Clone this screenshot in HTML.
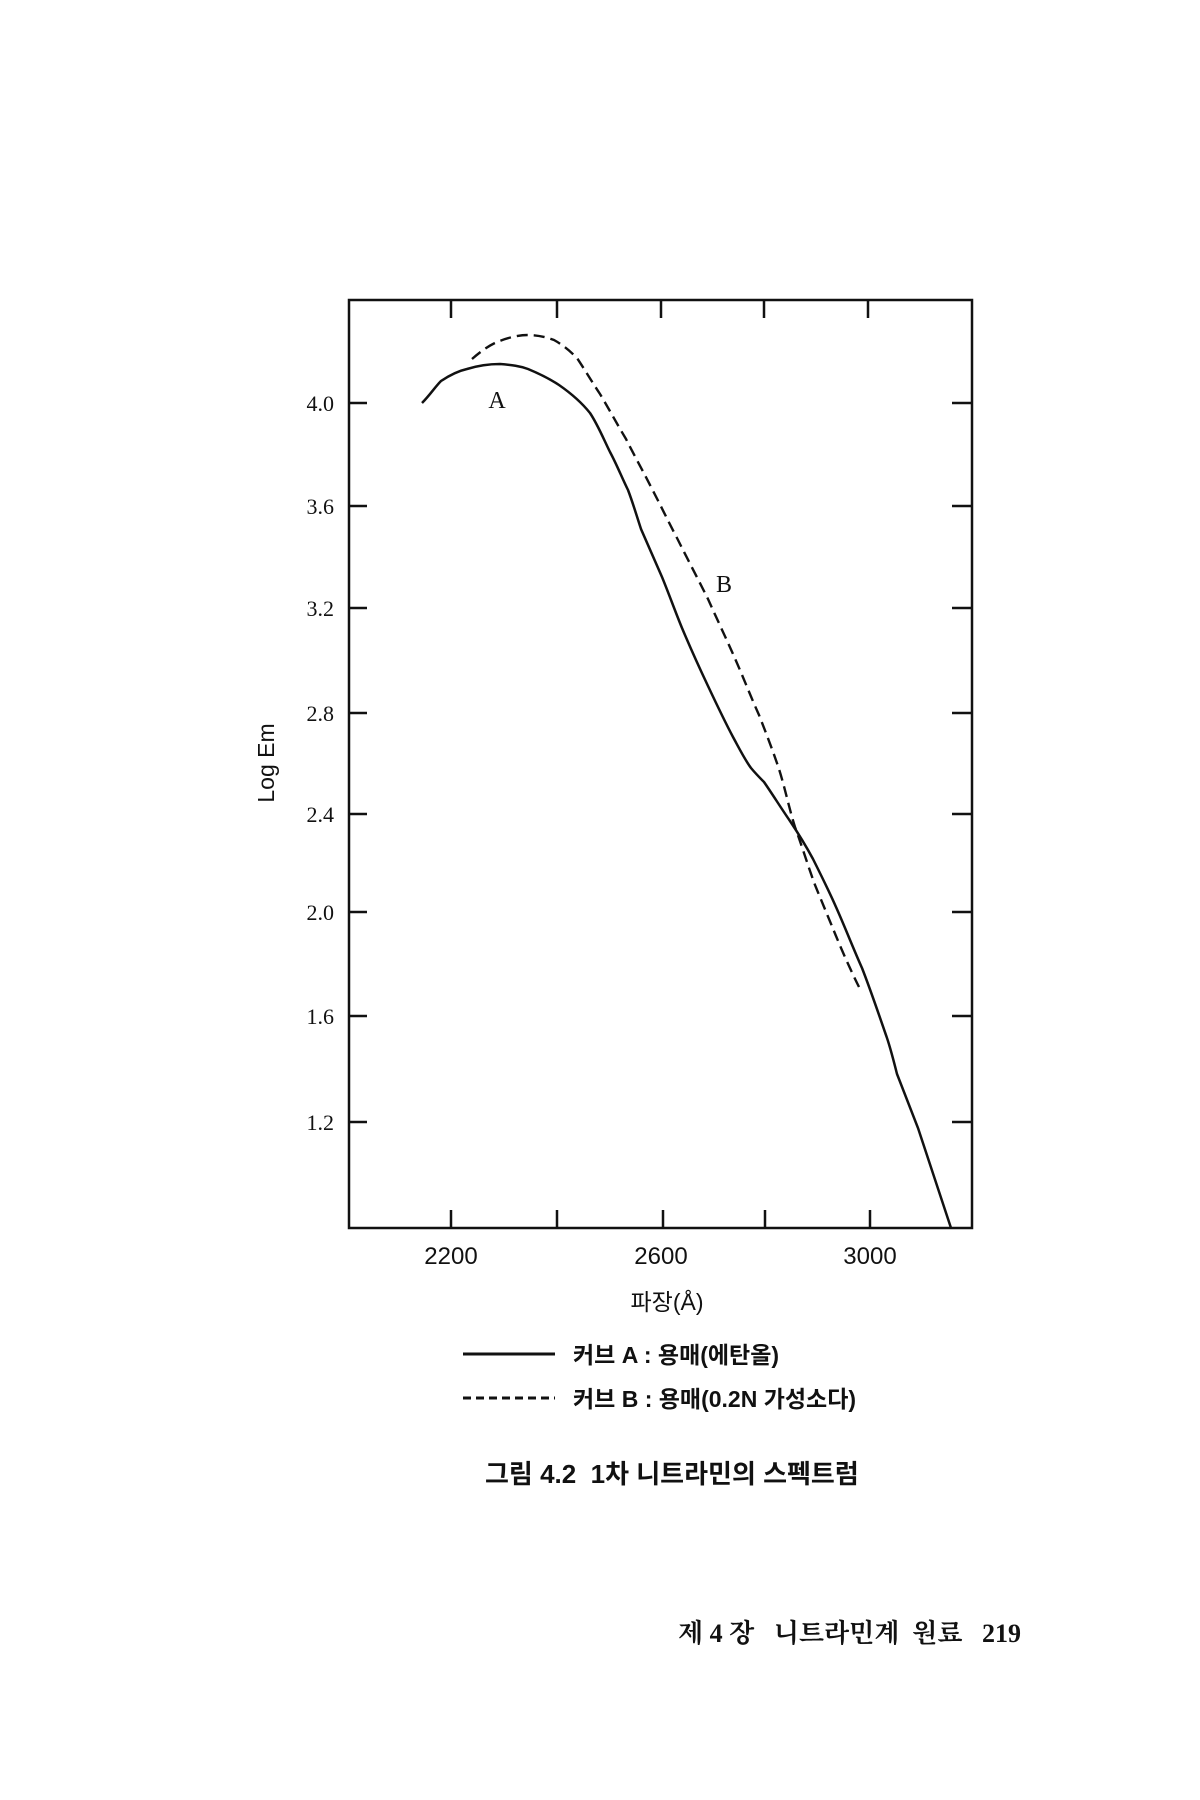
<!DOCTYPE html>
<html><head><meta charset="utf-8"><style>
html,body{margin:0;padding:0;background:#fff;}
svg{display:block;}
</style></head><body>
<svg width="1200" height="1800" viewBox="0 0 1200 1800" xmlns="http://www.w3.org/2000/svg">
<rect width="1200" height="1800" fill="#fff"/>
<rect x="349" y="300" width="623" height="928" fill="none" stroke="#111" stroke-width="2.5"/>
<g stroke="#111" stroke-width="2.5">
<line x1="451" y1="300" x2="451" y2="318"/><line x1="557" y1="300" x2="557" y2="318"/><line x1="661" y1="300" x2="661" y2="318"/><line x1="764" y1="300" x2="764" y2="318"/><line x1="868" y1="300" x2="868" y2="318"/>
<line x1="451" y1="1228" x2="451" y2="1210"/><line x1="557" y1="1228" x2="557" y2="1210"/><line x1="663" y1="1228" x2="663" y2="1210"/><line x1="765" y1="1228" x2="765" y2="1210"/><line x1="870" y1="1228" x2="870" y2="1210"/>
<line x1="349" y1="403" x2="367" y2="403"/><line x1="349" y1="506" x2="367" y2="506"/><line x1="349" y1="608" x2="367" y2="608"/><line x1="349" y1="713" x2="367" y2="713"/><line x1="349" y1="814" x2="367" y2="814"/><line x1="349" y1="912" x2="367" y2="912"/><line x1="349" y1="1016" x2="367" y2="1016"/><line x1="349" y1="1122" x2="367" y2="1122"/>
<line x1="972" y1="403" x2="952" y2="403"/><line x1="972" y1="506" x2="952" y2="506"/><line x1="972" y1="608" x2="952" y2="608"/><line x1="972" y1="713" x2="952" y2="713"/><line x1="972" y1="814" x2="952" y2="814"/><line x1="972" y1="912" x2="952" y2="912"/><line x1="972" y1="1016" x2="952" y2="1016"/><line x1="972" y1="1122" x2="952" y2="1122"/>
</g>
<g font-family="Liberation Serif, serif" font-size="22" fill="#111" text-anchor="end">
<text x="334" y="411">4.0</text><text x="334" y="514">3.6</text><text x="334" y="616">3.2</text><text x="334" y="721">2.8</text><text x="334" y="822">2.4</text><text x="334" y="920">2.0</text><text x="334" y="1024">1.6</text><text x="334" y="1130">1.2</text>
</g>
<text transform="translate(274,763) rotate(-90)" font-family="Liberation Sans, sans-serif" font-size="23" fill="#111" text-anchor="middle">Log Em</text>
<path d="M422,403 C430,395 435,387 441,381 C450,375 458,371 467,369 C480,365 490,364 500,364 C512,365 520,366 528,369 C540,374 550,379 559,385 C572,394 582,403 590,413 C598,425 604,440 610,452 C617,465 622,478 628,490 C633,503 637,517 641,529 C648,545 655,561 662,577 C669,594 675,611 682,628 C690,647 699,667 708,686 C716,703 724,720 733,737 C739,748 745,760 751,768 C756,774 760,778 764,782 C773,795 781,808 790,821 C798,833 806,846 813,859 C821,875 829,891 836,907 C845,927 853,948 862,968 C871,991 879,1015 887,1038 C891,1050 894,1062 897,1074 C904,1092 911,1110 918,1128 C929,1161 940,1195 951,1228" fill="none" stroke="#111" stroke-width="2.5"/>
<path d="M472,359 C480,352 488,346 497,342 C507,338 518,335 528,335 C537,335 546,337 554,340 C563,345 570,351 577,358 C585,370 592,382 600,394 C609,409 617,424 626,439 C634,455 643,471 651,487 C660,504 668,521 677,538 C687,558 698,579 708,599 C716,617 725,636 733,654 C742,674 750,695 759,715 C766,733 773,751 779,769 C785,788 789,808 795,827 C802,846 808,866 815,885 C822,902 829,919 836,936 C843,953 851,971 859,987" fill="none" stroke="#111" stroke-width="2.4" stroke-dasharray="11,6"/>
<text x="497" y="408" font-family="Liberation Serif, serif" font-size="24" fill="#111" text-anchor="middle">A</text>
<text x="724" y="592" font-family="Liberation Serif, serif" font-size="24" fill="#111" text-anchor="middle">B</text>
<g font-family="Liberation Sans Narrow, Liberation Sans, sans-serif" font-size="24" fill="#111" text-anchor="middle">
<text x="451" y="1264">2200</text><text x="661" y="1264">2600</text><text x="870" y="1264">3000</text>
</g>
<text x="667" y="1310" font-family="Liberation Sans, Noto Sans CJK KR, sans-serif" font-size="23" fill="#111" text-anchor="middle">파장(Å)</text>
<line x1="463" y1="1354" x2="555" y2="1354" stroke="#111" stroke-width="3"/>
<line x1="463" y1="1398" x2="555" y2="1398" stroke="#111" stroke-width="3" stroke-dasharray="8,5"/>
<g font-family="Liberation Sans, Noto Sans CJK KR, sans-serif" font-size="23" font-weight="bold" fill="#111">
<text x="573" y="1363">커브 A : 용매(에탄올)</text>
<text x="573" y="1407">커브 B : 용매(0.2N 가성소다)</text>
</g>
<text x="485" y="1483" xml:space="preserve" font-family="Liberation Sans, Noto Sans CJK KR, sans-serif" font-size="26" font-weight="bold" fill="#111">그림 4.2  1차 니트라민의 스펙트럼</text>
<text x="678" y="1642" xml:space="preserve" font-family="Liberation Serif, Noto Serif CJK SC, serif" font-size="26" font-weight="bold" fill="#111">제 4 장   니트라민계  원료   219</text>
</svg>
</body></html>
